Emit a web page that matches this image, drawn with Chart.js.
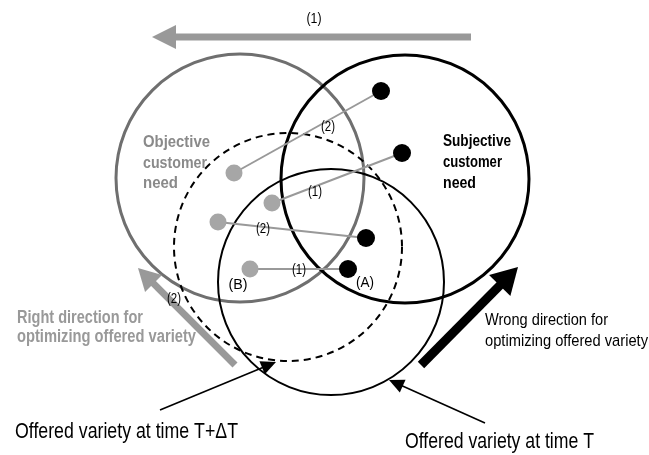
<!DOCTYPE html>
<html>
<head>
<meta charset="utf-8">
<script src="https://cdn.jsdelivr.net/npm/chart.js@4/dist/chart.umd.min.js"></script>
<style>
  html, body { margin: 0; padding: 0; background: #ffffff; }
  #wrap { width: 649px; height: 455px; position: relative; }
</style>
</head>
<body>
<div id="wrap"><canvas id="c"></canvas></div>
<script>
// ---- Diagram data (in diagram units: x 0..649, y 0..455 top-down) ----
// Circles: Objective need, Subjective need, Offered variety at T, Offered variety at T+ΔT
const circleNames = ['Objective customer need', 'Subjective customer need', 'Offered variety at time T', 'Offered variety at time T+ΔT'];
const circleX = [240, 405, 331, 288];
const circleY = [178, 179, 282, 247];
const circleR = [124, 124, 113, 114];

// Gray (objective) and black (subjective) points, paired
const grayX  = [234, 272, 218, 250];
const grayY  = [173, 203, 222, 269];
const blackX = [381, 402, 366, 348];
const blackY = [ 91, 153, 238, 269];
const pairLabels  = ['(2)', '(1)', '(2)', '(1)'];
const pairLabelX  = [328, 315, 263, 299];
const pairLabelY  = [131, 196, 233, 274];

// Arrows: [tailX, tailY] -> [tipX, tipY]
const arrowNames = ['step (1)', 'right direction', 'wrong direction', 'label T+ΔT', 'label T'];
const arrowTailX = [471, 235, 421, 160, 485];
const arrowTailY = [ 37, 365, 365, 410, 423];
const arrowTipX  = [152, 138, 518, 276, 389];
const arrowTipY  = [ 37, 268, 267, 362, 380];

// Text labels (x = anchor, y = baseline, w = rendered width)
const textStrings = ['(1)', '(2)', '(B)', '(A)',
  'Objective', 'customer', 'need',
  'Subjective', 'customer', 'need',
  'Right direction for', 'optimizing offered variety',
  'Wrong direction for', 'optimizing offered variety',
  'Offered variety at time T+\u0394T', 'Offered variety at time T'];
const textX = [314, 174, 238, 365, 143, 143, 143, 443, 443, 443, 17, 17, 485, 485, 15, 405];
const textY = [ 23, 303, 289, 287, 147, 168, 188, 146, 167, 188, 323, 342, 325, 346, 438, 448];
const textW = [ 15,  14,  19,  18,  67,  64,  35,  68,  59,  33, 126, 179, 123, 163, 223, 189];

// ---- Styles ----
const SANS = '"Liberation Sans", Arial, sans-serif';
const circleStyles = [
  { color: '#6f6f6f', width: 3, dash: [] },
  { color: '#000000', width: 3, dash: [] },
  { color: '#000000', width: 2, dash: [] },
  { color: '#000000', width: 2, dash: [7, 5] }
];
const arrowStyles = [
  { color: '#999999', width: 7, head: 24, half: 12 },
  { color: '#999999', width: 7, head: 22, half: 12 },
  { color: '#000000', width: 9, head: 26, half: 15 },
  { color: '#000000', width: 1.6, head: 15, half: 7 },
  { color: '#000000', width: 1.6, head: 15, half: 7 }
];
const textStyles = [
  { font: '14px ' + SANS, color: '#000', align: 'center' },
  { font: '14px ' + SANS, color: '#000', align: 'center' },
  { font: '14px ' + SANS, color: '#000', align: 'center' },
  { font: '14px ' + SANS, color: '#000', align: 'center' },
  { font: 'bold 17px ' + SANS, color: '#8a8a8a', align: 'left' },
  { font: 'bold 17px ' + SANS, color: '#8a8a8a', align: 'left' },
  { font: 'bold 17px ' + SANS, color: '#8a8a8a', align: 'left' },
  { font: 'bold 17px ' + SANS, color: '#000', align: 'left' },
  { font: 'bold 17px ' + SANS, color: '#000', align: 'left' },
  { font: 'bold 17px ' + SANS, color: '#000', align: 'left' },
  { font: 'bold 18px ' + SANS, color: '#999999', align: 'left' },
  { font: 'bold 18px ' + SANS, color: '#999999', align: 'left' },
  { font: '17px ' + SANS, color: '#000', align: 'left' },
  { font: '17px ' + SANS, color: '#000', align: 'left' },
  { font: '22px ' + SANS, color: '#000', align: 'left' },
  { font: '22px ' + SANS, color: '#000', align: 'left' }
];

// ---- Build datasets from arrays ----
const pairDatasets = grayX.map((gx, i) => ({
  type: 'scatter',
  label: 'pair ' + (i + 1),
  data: [{ x: gx, y: grayY[i] }, { x: blackX[i], y: blackY[i] }],
  showLine: true,
  borderColor: '#999999',
  borderWidth: 2,
  pointRadius: 0,
  order: 3
}));

const datasets = pairDatasets.concat([
  {
    type: 'scatter',
    label: 'Objective',
    data: grayX.map((x, i) => ({ x: x, y: grayY[i] })),
    pointRadius: 8.5,
    pointBackgroundColor: '#a6a6a6',
    pointBorderWidth: 0,
    order: 1
  },
  {
    type: 'scatter',
    label: 'Subjective',
    data: blackX.map((x, i) => ({ x: x, y: blackY[i] })),
    pointRadius: 9,
    pointBackgroundColor: '#000000',
    pointBorderWidth: 0,
    order: 1
  }
]);

function drawFittedText(ctx, t, px, py, w, st) {
  ctx.save();
  ctx.font = st.font;
  ctx.fillStyle = st.color;
  ctx.textAlign = st.align;
  ctx.textBaseline = 'alphabetic';
  const m = ctx.measureText(t).width || 1;
  ctx.translate(px, py);
  ctx.scale(w / m, 1);
  ctx.fillText(t, 0, 0);
  ctx.restore();
}

// ---- Plugin drawing circles, arrows, texts through the scales ----
const diagramPlugin = {
  id: 'diagram',
  beforeDatasetsDraw(chart) {
    const ctx = chart.ctx, xs = chart.scales.x, ys = chart.scales.y;
    circleX.forEach((cx, i) => {
      const px = xs.getPixelForValue(cx), py = ys.getPixelForValue(circleY[i]);
      const pr = Math.abs(xs.getPixelForValue(cx + circleR[i]) - px);
      const st = circleStyles[i];
      ctx.save();
      ctx.beginPath();
      ctx.arc(px, py, pr, 0, Math.PI * 2);
      ctx.lineWidth = st.width;
      ctx.strokeStyle = st.color;
      ctx.setLineDash(st.dash);
      ctx.stroke();
      ctx.restore();
    });
  },
  afterDatasetsDraw(chart) {
    const ctx = chart.ctx, xs = chart.scales.x, ys = chart.scales.y;
    arrowTailX.forEach((tx, i) => {
      const x0 = xs.getPixelForValue(tx), y0 = ys.getPixelForValue(arrowTailY[i]);
      const x1 = xs.getPixelForValue(arrowTipX[i]), y1 = ys.getPixelForValue(arrowTipY[i]);
      const st = arrowStyles[i];
      const ang = Math.atan2(y1 - y0, x1 - x0);
      const bx = x1 - Math.cos(ang) * st.head, by = y1 - Math.sin(ang) * st.head;
      ctx.save();
      ctx.strokeStyle = st.color;
      ctx.fillStyle = st.color;
      ctx.lineWidth = st.width;
      ctx.lineCap = 'butt';
      ctx.beginPath();
      ctx.moveTo(x0, y0);
      ctx.lineTo(bx + Math.cos(ang) * 2, by + Math.sin(ang) * 2);
      ctx.stroke();
      ctx.beginPath();
      ctx.moveTo(x1, y1);
      ctx.lineTo(bx + Math.sin(ang) * st.half, by - Math.cos(ang) * st.half);
      ctx.lineTo(bx - Math.sin(ang) * st.half, by + Math.cos(ang) * st.half);
      ctx.closePath();
      ctx.fill();
      ctx.restore();
    });
    pairLabels.forEach((t, i) => {
      drawFittedText(ctx, t, xs.getPixelForValue(pairLabelX[i]), ys.getPixelForValue(pairLabelY[i]), 14,
        { font: '14px ' + SANS, color: '#000', align: 'center' });
    });
    textStrings.forEach((t, i) => {
      drawFittedText(ctx, t, xs.getPixelForValue(textX[i]), ys.getPixelForValue(textY[i]), textW[i], textStyles[i]);
    });
  }
};

new Chart(document.getElementById('c'), {
  type: 'scatter',
  data: { datasets: datasets },
  options: {
    responsive: true,
    maintainAspectRatio: false,
    animation: false,
    layout: { padding: 0, autoPadding: false },
    plugins: { legend: { display: false }, tooltip: { enabled: false } },
    scales: {
      x: { type: 'linear', min: 0, max: 649, display: false },
      y: { type: 'linear', min: 0, max: 455, reverse: true, display: false }
    }
  },
  plugins: [diagramPlugin]
});
</script>
</body>
</html>
